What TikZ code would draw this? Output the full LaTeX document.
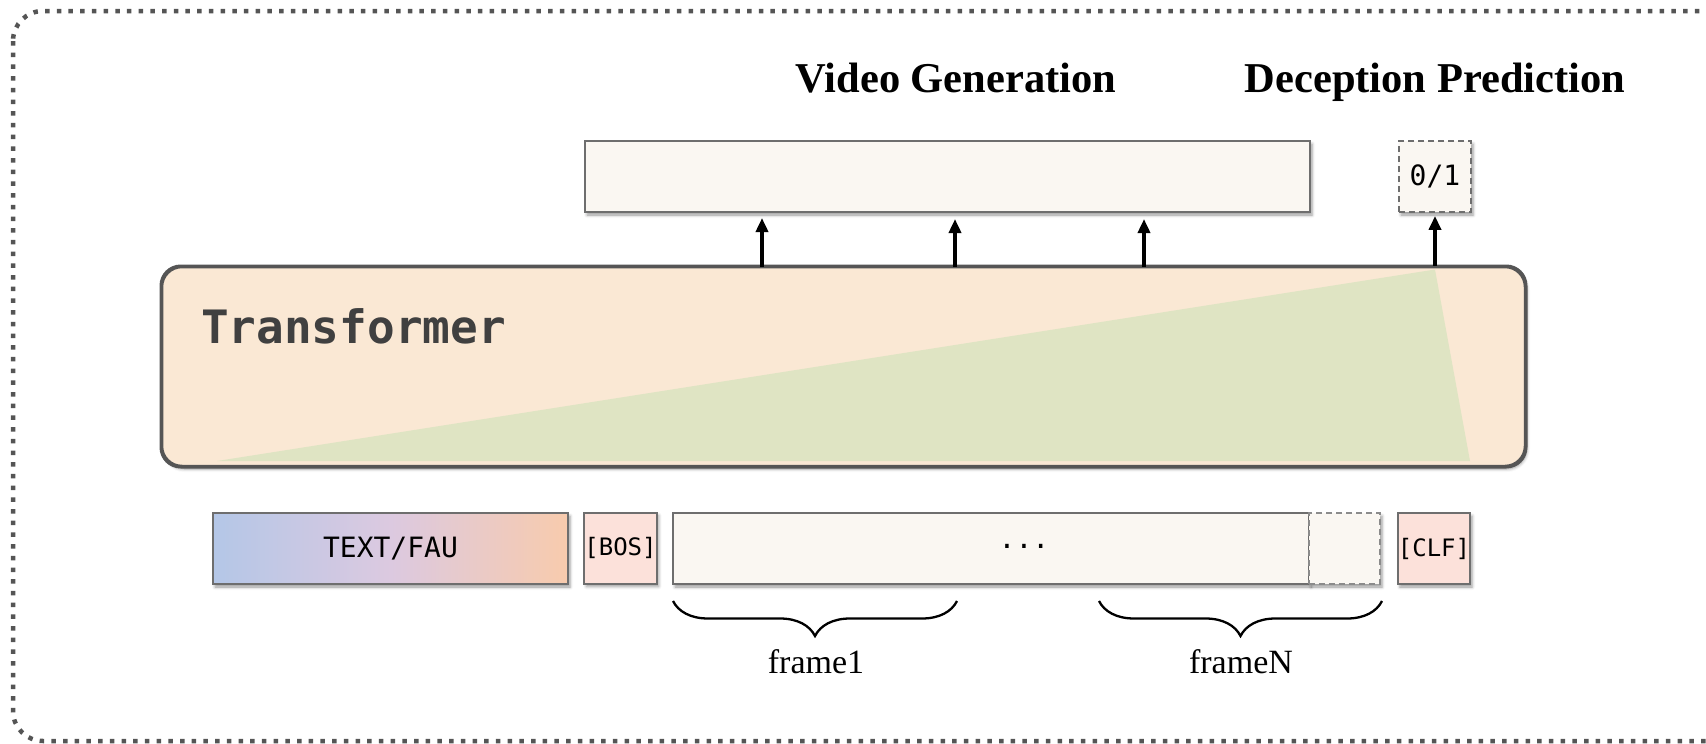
\documentclass[tikz,border=0pt]{standalone}
\usepackage{fontspec}
\setmainfont{Liberation Serif}
\setmonofont{DejaVu Sans Mono}
\usetikzlibrary{shadows.blur,decorations.pathreplacing,arrows.meta}

\definecolor{peach}{HTML}{FAE8D4}
\definecolor{sage}{HTML}{DFE4C3}
\definecolor{cream}{HTML}{FAF7F2}
\definecolor{pinkb}{HTML}{FCE1DA}
\definecolor{bordergray}{HTML}{6E6E6E}
\definecolor{framegray}{HTML}{555555}
\definecolor{gblue}{HTML}{B4C7E7}
\definecolor{glav}{HTML}{DCC9E0}
\definecolor{gpeach}{HTML}{F8CBAD}
\definecolor{tgray}{HTML}{404040}

\tikzset{
  boxshadow/.style={blur shadow={shadow xshift=2pt, shadow yshift=-3pt, shadow blur radius=3pt, shadow opacity=40}},
  box/.style={draw=bordergray, line width=2pt, inner sep=0pt, minimum height=71pt, boxshadow},
  dbox/.style={draw=bordergray, line width=1.8pt, dash pattern=on 6pt off 4pt, inner sep=0pt, minimum height=71pt},
  arr/.style={-{Triangle[length=14pt,width=12pt]}, line width=3.5pt, black},
  brc/.style={decorate, decoration={brace, mirror, amplitude=35pt}, line width=2.3pt},
  title/.style={font=\fontsize{42.5}{50}\selectfont\bfseries, anchor=base, inner sep=0pt},
  flabel/.style={font=\fontsize{34}{40}\selectfont, anchor=base, inner sep=0pt},
  tok/.style={font=\ttfamily\fontsize{24}{28}\selectfont},
}

\begin{document}
\begin{tikzpicture}[x=1pt,y=-1pt]
\useasboundingbox (0,0) rectangle (1706,744);

% outer dotted frame
\draw[framegray, line width=4.5pt, dash pattern=on 4.5pt off 7.2pt, rounded corners=30pt]
  (13,11) rectangle (1740,741);

% titles
\node[title] (vg) at (956,92) {Video Generation};
\node[title] (dp) at (1435,92) {Deception Prediction};

% top boxes
\node[box, fill=cream, minimum width=725pt] (V) at (947.5,176.5) {};
\node[dbox, fill=cream, minimum width=72pt, boxshadow, font=\ttfamily\fontsize{28}{32}\selectfont] (D) at (1435,176.5) {0/1};

% transformer
\node[draw=framegray, line width=2.5pt, fill=peach, rounded corners=20pt, minimum width=1363pt, minimum height=199pt, boxshadow] (T) at (843.5,366.5) {};
\fill[sage] (217,461) -- (1435,269.5) -- (1470,461) -- cycle;
\draw[framegray, line width=2.5pt, rounded corners=20pt] (T.north west) rectangle (T.south east);
\node[anchor=base west, inner sep=0pt, text=tgray, font=\ttfamily\bfseries\fontsize{46}{52}\selectfont] (tl) at (201,343) {Transformer};

% arrows
\coordinate (a1) at (762,267);
\coordinate (a2) at (955,267);
\coordinate (a3) at (1144,267);
\draw[arr, shorten >=5pt] (a1) -- (a1 |- V.south);
\draw[arr, shorten >=6pt] (a2) -- (a2 |- V.south);
\draw[arr, shorten >=6pt] (a3) -- (a3 |- V.south);
\draw[arr, shorten >=3pt] (D.south |- T.north) -- (D.south);

% bottom tokens
\node[box, minimum width=355pt, left color=gblue, right color=gpeach, middle color=glav, font=\ttfamily\fontsize{28}{32}\selectfont] (tf) at (390.5,548.5) {TEXT/FAU};
\node[box, tok, fill=pinkb, minimum width=71pt] (bos) at (620.5,548) {[BOS]};
\node[box, fill=cream, minimum width=636pt] (fr) at (991,548.5) {};
\node[dbox, fill=cream, draw=bordergray!80, minimum width=71pt, boxshadow] (fl) at (1344.5,548.5) {};
\node[box, tok, fill=pinkb, minimum width=70pt] (clf) at (1434,548.5) {[CLF]};
\node[font=\ttfamily\fontsize{28}{30}\selectfont, inner sep=0pt] (dots) at (1024,546) {...};

% braces
\coordinate (b1l) at (673,601);
\coordinate (b1r) at (957,601);
\coordinate (b2l) at (1099,601);
\coordinate (b2r) at (1382,601);
\draw[brc] (b1l) -- (b1r);
\draw[brc] (b2l) -- (b2r);
\node[flabel] (f1) at (816,673) {frame1};
\node[flabel] (fN) at (1241,673) {frameN};
\end{tikzpicture}
\end{document}
